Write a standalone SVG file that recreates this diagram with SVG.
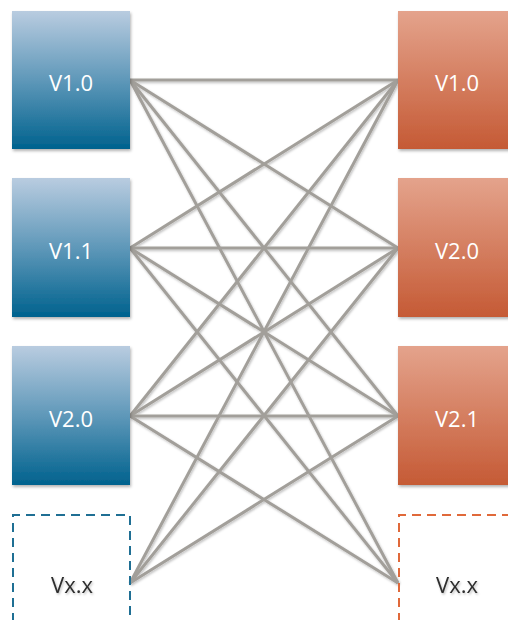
<svg xmlns="http://www.w3.org/2000/svg" width="508" height="620" viewBox="0 0 508 620">
<defs>
<linearGradient id="gBlue" x1="0" y1="0" x2="0" y2="1">
<stop offset="0" stop-color="#b9cce0"/>
<stop offset="0.5" stop-color="#5f98b9"/>
<stop offset="1" stop-color="#00628e"/>
</linearGradient>
<linearGradient id="gOrange" x1="0" y1="0" x2="0" y2="1">
<stop offset="0" stop-color="#e4a38c"/>
<stop offset="1" stop-color="#c55a35"/>
</linearGradient>
<filter id="sh" x="-10%" y="-10%" width="130%" height="130%">
<feDropShadow dx="1" dy="2" stdDeviation="1.5" flood-color="#000" flood-opacity="0.3"/>
</filter>
<filter id="lsh" x="-10%" y="-10%" width="120%" height="120%">
<feDropShadow dx="1" dy="1.5" stdDeviation="1" flood-color="#000" flood-opacity="0.25"/>
</filter>
<style>
.lbl{font-family:"Open Sans","Liberation Sans",sans-serif;font-size:22px;text-anchor:middle;fill:#ffffff}
.lblx{font-family:"Open Sans","Liberation Sans",sans-serif;font-size:22px;text-anchor:middle;fill:#2e2e2e;filter:url(#lsh)}
.blue{fill:url(#gBlue);filter:url(#sh)}
.orange{fill:url(#gOrange);filter:url(#sh)}
.dblue{fill:none;stroke:#1f6f94;stroke-width:2;stroke-dasharray:9 6}
.dorange{fill:none;stroke:#e0693a;stroke-width:2;stroke-dasharray:9 6}
.ln{stroke:#a29f9a;stroke-width:3;fill:none}
</style>
</defs>
<rect width="508" height="620" fill="#ffffff"/>
<g id="connectors" filter="url(#lsh)">
<line class="ln" x1="130" y1="80" x2="398" y2="80"/>
<line class="ln" x1="130" y1="80" x2="398" y2="248"/>
<line class="ln" x1="130" y1="80" x2="398" y2="416"/>
<line class="ln" x1="130" y1="80" x2="398" y2="583"/>
<line class="ln" x1="130" y1="248" x2="398" y2="80"/>
<line class="ln" x1="130" y1="248" x2="398" y2="248"/>
<line class="ln" x1="130" y1="248" x2="398" y2="416"/>
<line class="ln" x1="130" y1="248" x2="398" y2="583"/>
<line class="ln" x1="130" y1="416" x2="398" y2="80"/>
<line class="ln" x1="130" y1="416" x2="398" y2="248"/>
<line class="ln" x1="130" y1="416" x2="398" y2="416"/>
<line class="ln" x1="130" y1="416" x2="398" y2="583"/>
<line class="ln" x1="130" y1="583" x2="398" y2="80"/>
<line class="ln" x1="130" y1="583" x2="398" y2="248"/>
<line class="ln" x1="130" y1="583" x2="398" y2="416"/>
</g>
<g id="L1">
<rect class="blue" x="12" y="11" width="118" height="138"/>
<text class="lbl" x="71" y="91">V1.0</text>
</g>
<g id="L2">
<rect class="blue" x="12" y="178" width="118" height="139"/>
<text class="lbl" x="71" y="259">V1.1</text>
</g>
<g id="L3">
<rect class="blue" x="12" y="346" width="118" height="139"/>
<text class="lbl" x="71" y="427">V2.0</text>
</g>
<g id="L4">
<path class="dblue" d="M13 622 V515 H130 V622"/>
<text class="lblx" x="72" y="593">Vx.x</text>
</g>
<g id="R1">
<rect class="orange" x="398" y="11" width="118" height="138"/>
<text class="lbl" x="457" y="91">V1.0</text>
</g>
<g id="R2">
<rect class="orange" x="398" y="178" width="118" height="139"/>
<text class="lbl" x="457" y="259">V2.0</text>
</g>
<g id="R3">
<rect class="orange" x="398" y="346" width="118" height="139"/>
<text class="lbl" x="457" y="427">V2.1</text>
</g>
<g id="R4">
<path class="dorange" d="M399 622 V515 H516"/>
<text class="lblx" x="457" y="593">Vx.x</text>
</g>
</svg>
